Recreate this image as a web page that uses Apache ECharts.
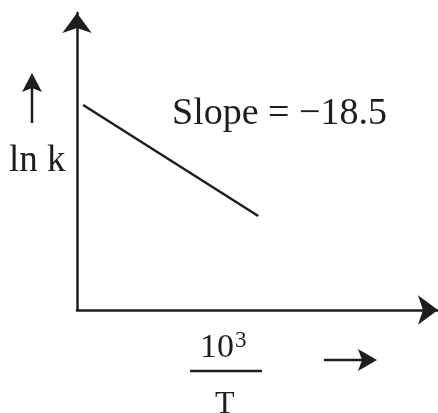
<!DOCTYPE html>
<html>
<head>
<meta charset="utf-8">
<script src="https://cdn.jsdelivr.net/npm/echarts@6/dist/echarts.min.js"></script>
<style>
html, body { margin: 0; background: #fff; }
#chart { width: 438px; height: 413px; }
</style>
</head>
<body>
<div id="chart"></div>
<script>
// 10^3/T at the two ends of the plotted line
const invT = [0.17, 5.02];
// ln k at those ends (slope -18.5)
const lnK = [165.7, 76.0];
const xRange = [0, 10];
const yRange = [0, 240];
const slopeLabel = 'Slope = \u221218.5';
const yLabel = 'ln k';
const xLabelTop = '10';
const xLabelSup = '3';
const xLabelBottom = 'T';

const ink = '#1e1e1e';
const serif = '"Liberation Serif", "DejaVu Serif", serif';

const chart = echarts.init(document.getElementById('chart'));

function hiddenAxis(range) {
	return {
		type: 'value',
		min: range[0],
		max: range[1],
		axisLine: {
			show: true,
			onZero: false,
			symbol: ['none', 'arrow'],
			symbolSize: [22, 20],
			lineStyle: { color: ink, width: 2.5 },
		},
		axisTick: { show: false },
		axisLabel: { show: false },
		splitLine: { show: false },
	};
}

chart.setOption({
	animation: false,
	grid: { left: 77, right: 0, top: 13, bottom: 103, outerBoundsMode: 'none' },
	xAxis: hiddenAxis(xRange),
	yAxis: hiddenAxis(yRange),
	series: [{
		type: 'line',
		data: invT.map((x, i) => [x, lnK[i]]),
		symbol: 'none',
		silent: true,
		lineStyle: { color: ink, width: 2.5 },
	}],
	graphic: [
		{ type: 'text', left: 172, top: 95, style: { text: slopeLabel, font: '38px ' + serif, fill: ink } },
		{ type: 'text', left: 9, top: 143, style: { text: yLabel, font: '37px ' + serif, fill: ink } },
		// arrow next to ln k
		{ type: 'line', shape: { x1: 32, y1: 123, x2: 32, y2: 88 }, style: { stroke: ink, lineWidth: 2.5 } },
		{ type: 'polygon', shape: { points: [[32, 73], [22, 92], [32, 88], [42, 92]] }, style: { fill: ink } },
		// fraction 10^3 / T
		{ type: 'text', left: 200, top: 331, style: { text: xLabelTop, font: '34px ' + serif, fill: ink } },
		{ type: 'text', left: 235, top: 329, style: { text: xLabelSup, font: '23px ' + serif, fill: ink } },
		{ type: 'line', shape: { x1: 190, y1: 371, x2: 262, y2: 371 }, style: { stroke: ink, lineWidth: 2.5 } },
		{ type: 'text', left: 215, top: 389, style: { text: xLabelBottom, font: '32px ' + serif, fill: ink } },
		// arrow next to fraction
		{ type: 'line', shape: { x1: 324, y1: 360, x2: 362, y2: 360 }, style: { stroke: ink, lineWidth: 2.5 } },
		{ type: 'polygon', shape: { points: [[377, 360], [358, 349], [362, 360], [358, 371]] }, style: { fill: ink } },
	],
});
</script>
</body>
</html>
